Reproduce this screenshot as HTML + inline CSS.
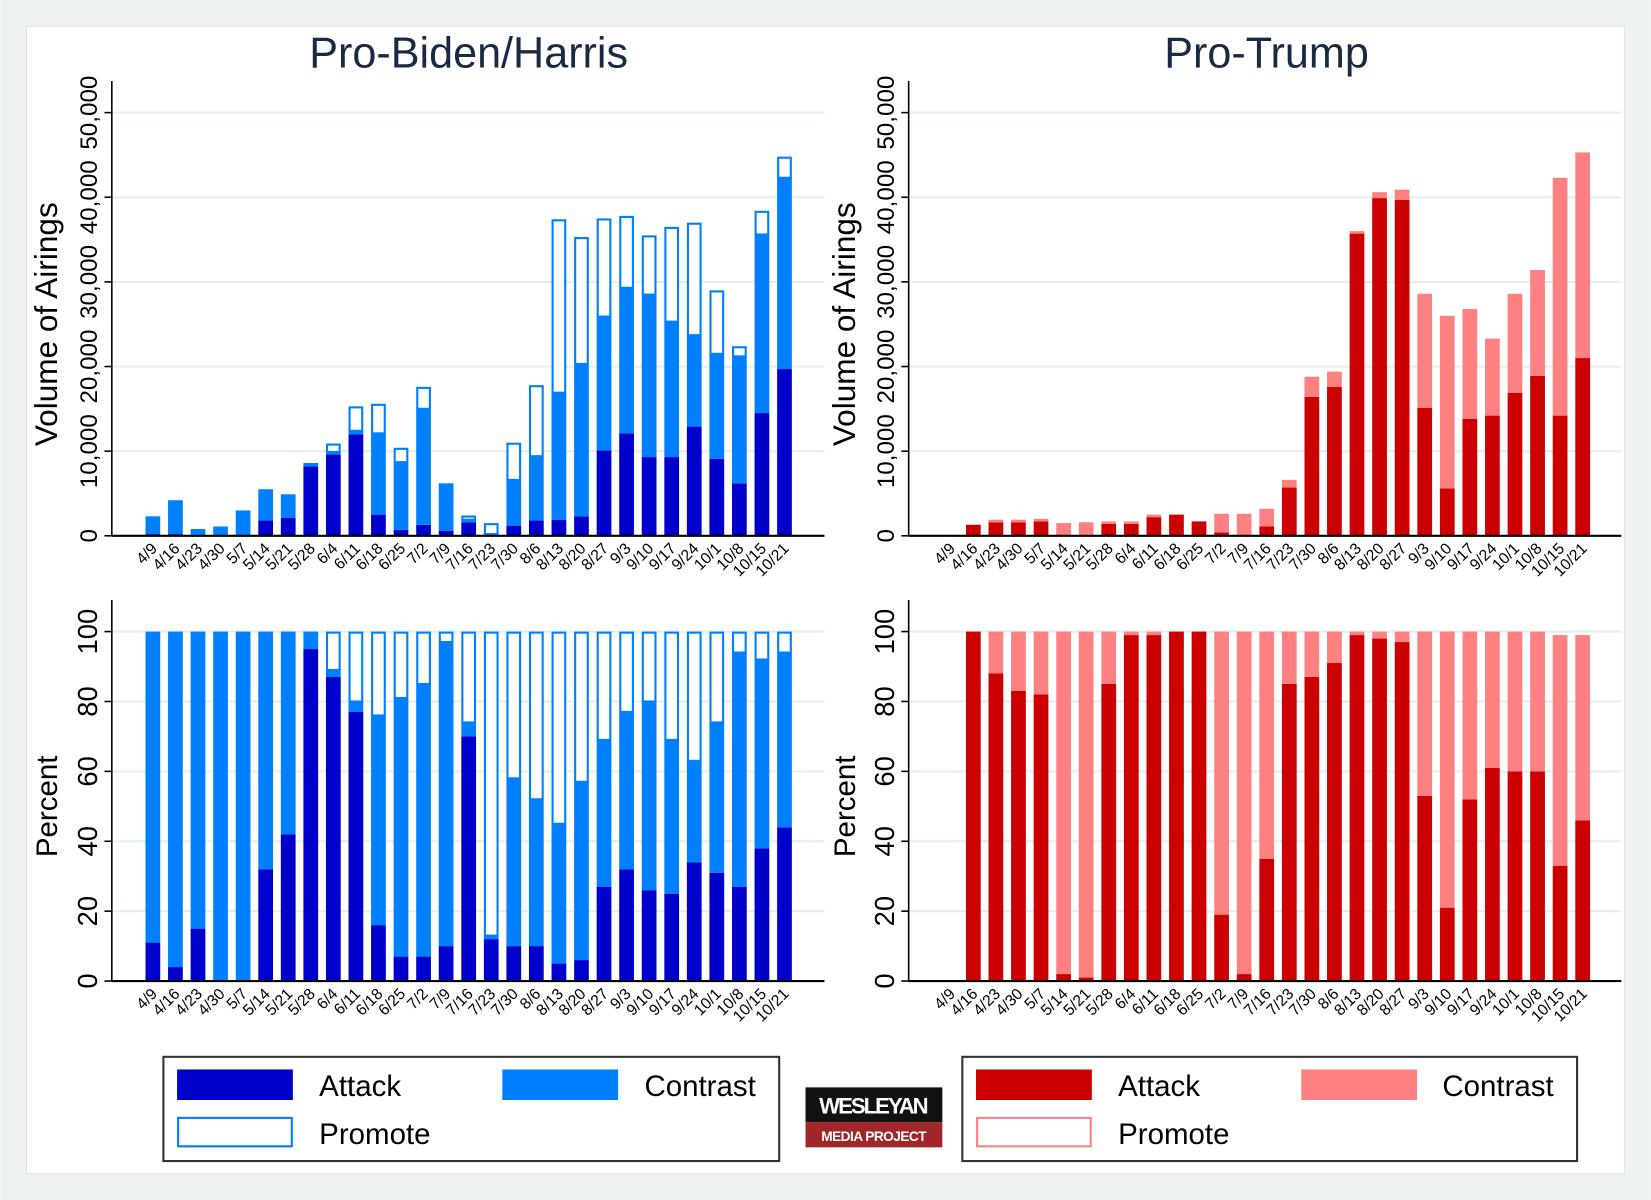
<!DOCTYPE html>
<html><head><meta charset="utf-8"><style>
html,body{margin:0;padding:0;background:#fff}
svg{display:block}
text{font-family:"Liberation Sans",Arial,sans-serif}
</style></head><body>
<svg id="root" width="1651" height="1200" viewBox="0 0 1568 1140" xmlns="http://www.w3.org/2000/svg">
<rect x="0" y="0" width="1568" height="1140" fill="#eef2f2"/>
<rect x="25" y="25" width="1518" height="1090" fill="#fff" stroke="#dde4e4"/>
<text x="445" y="64" font-size="41" text-anchor="middle" fill="#1a2a44">Pro-Biden/Harris</text>
<text x="1203" y="64" font-size="41" text-anchor="middle" fill="#1a2a44">Pro-Trump</text>
<g id="charts"></g>
<g>
<rect x="155" y="1004" width="585" height="99" fill="#fff" stroke="#333" stroke-width="2"/>
<rect x="168" y="1016" width="110" height="29" fill="#0000cc"/>
<text x="303" y="1041" font-size="28">Attack</text>
<rect x="477" y="1016" width="110" height="29" fill="#0080ff"/>
<text x="612" y="1041" font-size="28">Contrast</text>
<rect x="169" y="1062" width="108" height="27" fill="#fff" stroke="#0080ff" stroke-width="2"/>
<text x="303" y="1087" font-size="28">Promote</text>
</g>
<g>
<rect x="914" y="1004" width="584" height="99" fill="#fff" stroke="#333" stroke-width="2"/>
<rect x="927" y="1016" width="110" height="29" fill="#cc0000"/>
<text x="1062" y="1041" font-size="28">Attack</text>
<rect x="1236" y="1016" width="110" height="29" fill="#ff8080"/>
<text x="1370" y="1041" font-size="28">Contrast</text>
<rect x="928" y="1062" width="108" height="27" fill="#fff" stroke="#ff8080" stroke-width="2"/>
<text x="1062" y="1087" font-size="28">Promote</text>
</g>
<g>
<rect x="765" y="1033" width="130" height="33" fill="#111"/>
<text x="830" y="1058" font-size="21" font-weight="bold" fill="#fff" text-anchor="middle" textLength="104" lengthAdjust="spacing">WESLEYAN</text>
<rect x="765" y="1066" width="130" height="24" fill="#a0262a"/>
<text x="830" y="1084" font-size="13" font-weight="bold" fill="#fff" text-anchor="middle" textLength="100" lengthAdjust="spacing">MEDIA PROJECT</text>
</g>
</svg>
<script>
const categories=["4/9","4/16","4/23","4/30","5/7","5/14","5/21","5/28","6/4","6/11","6/18","6/25","7/2","7/9","7/16","7/23","7/30","8/6","8/13","8/20","8/27","9/3","9/10","9/17","9/24","10/1","10/8","10/15","10/21"];
const bidenAttack=[0.2,0.2,0.1,0,0,1.8,2.1,8.2,9.6,12.0,2.5,0.7,1.3,0.6,1.6,0.2,1.2,1.8,1.9,2.3,10.1,12.1,9.3,9.3,12.9,9.1,6.2,14.5,19.7];
const bidenContrast=[2.1,4.0,0.7,1.1,3.0,3.7,2.8,0.4,0.3,0.4,9.6,8.0,13.7,5.6,0.3,0,5.4,7.6,15.0,18.0,15.8,17.2,19.2,16.0,10.8,12.4,15.0,21.1,22.6];
const bidenPromote=[0,0,0,0,0,0,0,0,1.0,2.9,3.5,1.7,2.6,0,0.5,1.3,4.4,8.4,20.5,15.0,11.6,8.5,7.0,11.2,13.3,7.5,1.2,2.8,2.5];
const trumpAttack=[0,1.3,1.6,1.6,1.7,0.03,0.02,1.4,1.4,2.2,2.5,1.7,0.4,0.03,1.1,5.7,16.4,17.6,35.7,39.9,39.7,15.1,5.6,13.8,14.2,16.9,18.9,14.2,21.0];
const trumpContrast=[0,0,0.3,0.3,0.3,1.47,1.58,0.3,0.3,0.3,0,0,2.2,2.57,2.1,0.9,2.4,1.8,0.3,0.7,1.2,13.5,20.4,13.0,9.1,11.7,12.5,28.1,24.3];
const trumpPromote=[0,0,0,0,0,0,0,0,0,0,0,0,0,0,0,0,0,0,0,0,0,0,0,0,0,0,0,0,0];
const bidenAttackPct=[11,4,15,0,0,32,42,95,87,77,16,7,7,10,70,12,10,10,5,6,27,32,26,25,34,31,27,38,44];
const bidenContrastPct=[89,96,85,100,100,68,58,5,2,3,60,74,78,87,4,1,48,42,40,51,42,45,54,44,29,43,67,54,50];
const bidenPromotePct=[0,0,0,0,0,0,0,0,11,20,24,19,15,3,26,87,42,48,55,43,31,23,20,31,37,26,6,8,6];
const trumpAttackPct=[0,100,88,83,82,2,1,85,99,99,100,100,19,2,35,85,87,91,99,98,97,53,21,52,61,60,60,33,46];
const trumpContrastPct=[0,0,12,17,18,98,99,15,1,1,0,0,81,98,65,15,13,9,1,2,3,47,79,48,39,40,40,66,53];
const trumpPromotePct=[0,0,0,0,0,0,0,0,0,0,0,0,0,0,0,0,0,0,0,0,0,0,0,0,0,0,0,0,0];
const volTicks=[0,10000,20000,30000,40000,50000];
const volTickLabels=["0","10,000","20,000","30,000","40,000","50,000"];
const pctTicks=[0,20,40,60,80,100];
const pctTickLabels=["0","20","40","60","80","100"];

const NS="http://www.w3.org/2000/svg";
const host=document.getElementById('charts');
function mk(tag,attrs,parent){const e=document.createElementNS(NS,tag);for(const k in attrs)e.setAttribute(k,attrs[k]);(parent||host).appendChild(e);return e;}

function panel(o){
  const g=mk('g',{});
  
  
  const y=v=>o.y0-(v-o.min)/(o.max-o.min)*(o.y0-o.y1);
  const x=i=>o.x0+i*o.step;
  o.ticks.forEach((t,i)=>{
    if(t>0){const gl=mk('line',{x1:o.axX,x2:o.right,y1:y(t),y2:y(t),stroke:'#e4eeee','stroke-width':2},g);
      
      }
    mk('line',{x1:o.axX-7,x2:o.axX,y1:y(t),y2:y(t),stroke:'#000','stroke-width':1.5},g);
    const tl=mk('text',{x:o.axX-14,y:y(t),'font-size':o.tickFs,'text-anchor':'middle',transform:`rotate(-90 ${o.axX-14} ${y(t)})`},g);
    tl.textContent=o.tickLabels[i];
    
    
  });
  const yt=mk('text',{x:o.labX,y:(o.y0+o.y1)/2,'font-size':o.titleFs,'text-anchor':'middle',transform:`rotate(-90 ${o.labX} ${(o.y0+o.y1)/2})`},g);
  yt.textContent=o.ytitle;
  
  
  const bw=14;
  categories.forEach((c,i)=>{
    const a=o.A[i]*o.mult,b=o.C[i]*o.mult,p=o.P[i]*o.mult;
    const cx=x(i);
    if(a>0){const r=mk('rect',{x:cx-bw/2,y:y(a),width:bw,height:y(0)-y(a),fill:o.ca},g);
      
      }
    if(b>0){const r=mk('rect',{x:cx-bw/2,y:y(a+b),width:bw,height:y(a)-y(a+b),fill:o.cc},g);
      
      }
    if(p>0){const r=mk('rect',{x:cx-bw/2+1,y:y(a+b+p)+1,width:bw-2,height:Math.max(0,y(a+b)-y(a+b+p)-1),fill:'#fff',stroke:o.cc,'stroke-width':2},g);
      
      }
    const lx=cx+5,ly=o.y0+13;
    const t=mk('text',{x:lx,y:ly,'font-size':15,'text-anchor':'end',transform:`rotate(-45 ${lx} ${ly})`},g);
    t.textContent=c;
    
    
  });
  mk('line',{x1:o.axX,x2:o.axX,y1:o.y1-30,y2:o.y0,stroke:'#000','stroke-width':1.5},g);
  mk('line',{x1:o.axX,x2:o.right,y1:o.y0,y2:o.y0,stroke:'#000','stroke-width':2},g);
}
panel({name:'biden-volume-chart',A:bidenAttack,C:bidenContrast,P:bidenPromote,mult:1000,min:0,max:50000,y0:509,y1:107,x0:145,step:21.43,axX:106,right:783,ticks:volTicks,tickLabels:volTickLabels,tickFs:23,titleFs:30,labX:54,ytitle:'Volume of Airings',ca:'#0000cc',cc:'#0080ff'});
panel({name:'trump-volume-chart',A:trumpAttack,C:trumpContrast,P:trumpPromote,mult:1000,min:0,max:50000,y0:509,y1:107,x0:903,step:21.44,axX:863,right:1540,ticks:volTicks,tickLabels:volTickLabels,tickFs:23,titleFs:30,labX:812,ytitle:'Volume of Airings',ca:'#cc0000',cc:'#ff8080'});
panel({name:'biden-percent-chart',A:bidenAttackPct,C:bidenContrastPct,P:bidenPromotePct,mult:1,min:0,max:100,y0:932,y1:600,x0:145,step:21.43,axX:106,right:783,ticks:pctTicks,tickLabels:pctTickLabels,tickFs:26,titleFs:28,labX:54,ytitle:'Percent',ca:'#0000cc',cc:'#0080ff'});
panel({name:'trump-percent-chart',A:trumpAttackPct,C:trumpContrastPct,P:trumpPromotePct,mult:1,min:0,max:100,y0:932,y1:600,x0:903,step:21.44,axX:863,right:1540,ticks:pctTicks,tickLabels:pctTickLabels,tickFs:26,titleFs:28,labX:812,ytitle:'Percent',ca:'#cc0000',cc:'#ff8080'});
</script>
</body></html>
